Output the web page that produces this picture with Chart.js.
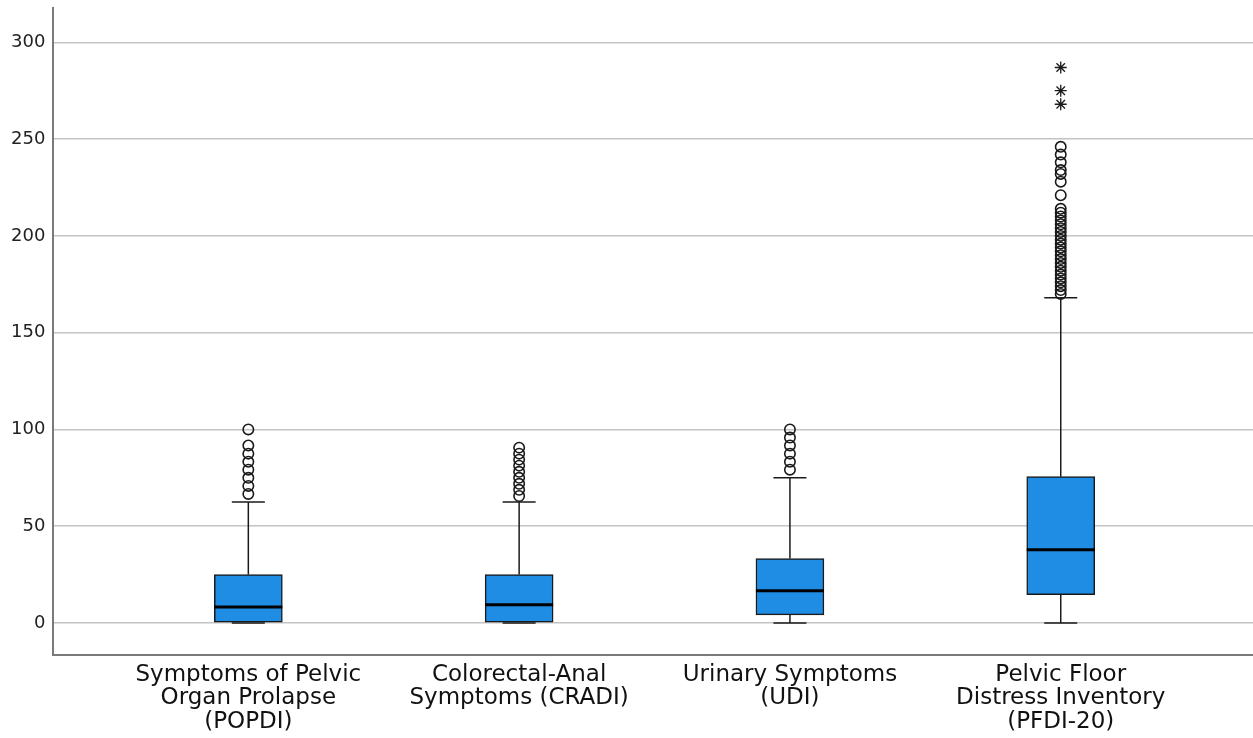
<!DOCTYPE html>
<html>
<head>
<meta charset="utf-8">
<script src="https://cdn.jsdelivr.net/npm/chart.js@4"></script>
<style>
  body { margin: 0; background: #fff; }
</style>
</head>
<body>
<canvas id="chartBox" width="1253" height="738"></canvas>
<script>
  // categories and box statistics
  const categories = [
    ['Symptoms of Pelvic', 'Organ Prolapse', '(POPDI)'],
    ['Colorectal-Anal', 'Symptoms (CRADI)'],
    ['Urinary Symptoms', '(UDI)'],
    ['Pelvic Floor', 'Distress Inventory', '(PFDI-20)']
  ];
  const whiskerLow = [0, 0, 0, 0];
  const q1 = [0, 0, 4.2, 14.6];
  const median = [8.3, 9.4, 16.7, 37.8];
  const q3 = [25, 25, 33.3, 75.6];
  const whiskerHigh = [62.5, 62.5, 75, 168];
  const outliers = [
    [66.7, 70.8, 75, 79.2, 83.3, 87.5, 91.7, 100],
    [65.6, 68.8, 71.9, 75, 78.1, 81.3, 84.4, 87.5, 90.6],
    [79.2, 83.3, 87.5, 91.7, 95.8, 100],
    [170, 172, 174, 176, 178, 180, 182, 184, 186, 188, 190, 192, 194, 196, 198,
     200, 202, 204, 206, 208, 210, 212, 214, 221, 228, 232, 234, 238, 242, 246]
  ];
  const extremes = [[], [], [], [268, 275, 287]];
  const yTicks = [0, 50, 100, 150, 200, 250, 300];

  const boxBlue = '#1f8de4';
  const ink = '#1a1a1a';

  const boxData = categories.map((c, i) => ({ x: i, y: [q1[i], q3[i]] }));
  const medianData = categories.map((c, i) => ({ x: i, y: median[i] }));
  const capData = [];
  const whiskerData = [];
  categories.forEach((c, i) => {
    capData.push({ x: i, y: whiskerHigh[i] }, { x: i, y: whiskerLow[i] });
    whiskerData.push({ x: i, y: q3[i] }, { x: i, y: whiskerHigh[i] }, { x: i, y: null });
    whiskerData.push({ x: i, y: whiskerLow[i] }, { x: i, y: q1[i] }, { x: i, y: null });
  });
  const outlierData = [];
  outliers.forEach((list, i) => list.forEach(v => outlierData.push({ x: i, y: v })));
  const extremeData = [];
  extremes.forEach((list, i) => list.forEach(v => extremeData.push({ x: i, y: v })));

  const ctx = document.getElementById('chartBox');

  new Chart(ctx, {
    type: 'bar',
    data: {
      datasets: [
        {
          type: 'scatter',
          data: medianData,
          pointStyle: 'line',
          pointRadius: 34,
          borderColor: '#000',
          borderWidth: 3,
          order: 0
        },
        {
          type: 'scatter',
          data: outlierData,
          pointStyle: 'circle',
          pointRadius: 5.2,
          backgroundColor: 'rgba(255,255,255,0)',
          borderColor: ink,
          borderWidth: 1.6,
          order: 0
        },
        {
          type: 'scatter',
          data: extremeData,
          pointStyle: 'star',
          pointRadius: 6,
          borderColor: ink,
          borderWidth: 1.3,
          order: 0
        },
        {
          type: 'scatter',
          data: capData,
          pointStyle: 'line',
          pointRadius: 16.5,
          borderColor: ink,
          borderWidth: 1.5,
          order: 1
        },
        {
          type: 'bar',
          data: boxData,
          barThickness: 68,
          backgroundColor: boxBlue,
          borderColor: ink,
          borderWidth: 1.5,
          borderSkipped: false,
          order: 2
        },
        {
          type: 'line',
          data: whiskerData,
          borderColor: ink,
          borderWidth: 1.5,
          pointRadius: 0,
          spanGaps: false,
          order: 3
        }
      ]
    },
    options: {
      responsive: false,
      animation: false,
      devicePixelRatio: 1,
      layout: { autoPadding: false, padding: { left: 3, top: 8, right: 0, bottom: -4 } },
      plugins: {
        legend: { display: false },
        tooltip: { enabled: false }
      },
      scales: {
        x: {
          type: 'linear',
          offset: false,
          min: -0.72,
          max: 3.71,
          afterBuildTicks: (scale) => {
            scale.ticks = categories.map((c, i) => ({ value: i }));
          },
          ticks: {
            autoSkip: false,
            maxRotation: 0,
            padding: 8,
            color: '#111',
            font: { family: 'DejaVu Sans', size: 23, lineHeight: 1.03 },
            callback: (value) => categories[value]
          },
          grid: { display: false, drawTicks: false, offset: false },
          border: { color: '#7a7a7a', width: 2 }
        },
        y: {
          min: -16.5,
          max: 317.5,
          afterBuildTicks: (scale) => {
            scale.ticks = yTicks.map(v => ({ value: v }));
          },
          ticks: {
            padding: 8,
            color: '#222',
            font: { family: 'DejaVu Sans', size: 18, lineHeight: 0.05 }
          },
          grid: { color: '#c4c4c4', lineWidth: 1.6, drawTicks: false },
          border: { color: '#7a7a7a', width: 2 }
        }
      }
    }
  });
</script>
</body>
</html>
